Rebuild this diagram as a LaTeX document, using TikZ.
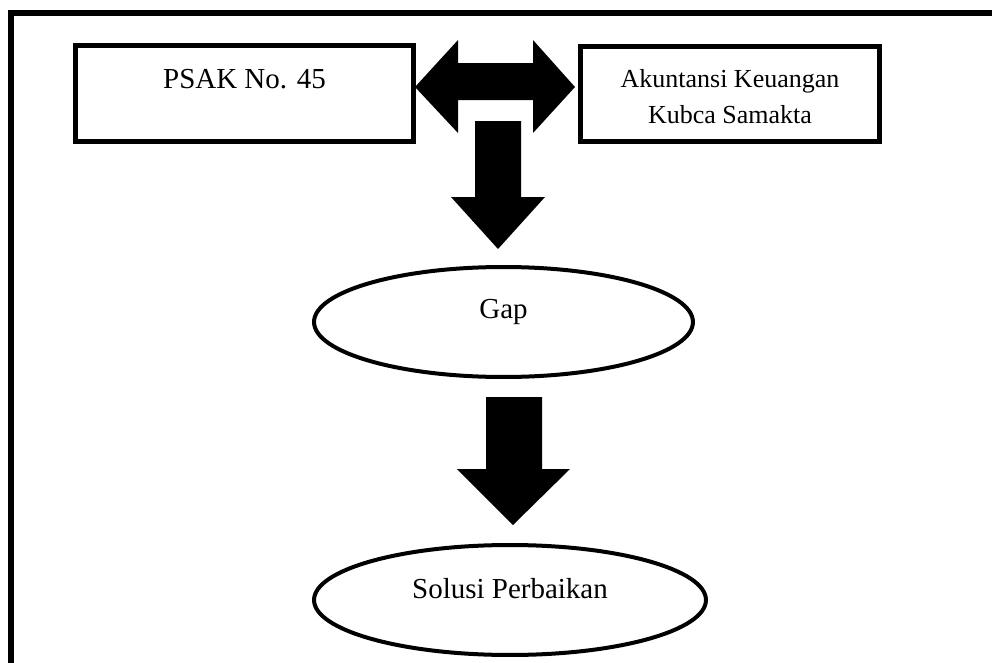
\documentclass[tikz,border=0pt]{standalone}
\usepackage{fontspec}
\setmainfont{Liberation Serif}
\usetikzlibrary{shapes.geometric, positioning}

\begin{document}
\begin{tikzpicture}[
  x=0.02cm, y=-0.02cm,
  tbox/.style={draw, line width=0.1cm, rectangle, inner sep=0pt, font=\fontsize{16.5}{21}\selectfont, align=center},
  ebox/.style={draw, line width=0.08cm, ellipse, inner sep=0pt, font=\fontsize{16.5}{21}\selectfont},
  blockarrow/.style={fill=black}
]
  \useasboundingbox (0,0) rectangle (992,663);
  % frame
  \draw[line width=0.11cm] (992,13) -- (11,13) -- (11,663);

  \node[tbox, minimum width=6.76cm, minimum height=1.92cm, text height=0.24cm, text depth=0.46cm] (psak) at (244.5,93.5) {PSAK No. 45};
  \node[tbox, font=\fontsize{14.8}{21}\selectfont, minimum width=5.98cm, minimum height=1.9cm, text height=1.32cm, text depth=0.12cm] (akun) at (730,94) {Akuntansi Keuangan\\Kubca Samakta};

  \node[ebox, minimum width=7.58cm, minimum height=2.2cm, text height=0.2cm, text depth=0.36cm] (gap) at (503.5,322) {Gap};
  \node[ebox, minimum width=7.84cm, minimum height=2.2cm, text height=0.24cm, text depth=0.32cm] (solusi) at (510,600) {Solusi Perbaikan};

  % block arrows
  \fill[blockarrow] (415,87) -- (458,40) -- (458,63) -- (533,63) -- (533,40) -- (575,87)
    -- (533,133) -- (533,100) -- (458,100) -- (458,133) -- cycle;
  \fill[blockarrow] (475,121) -- (521,121) -- (521,197) -- (545,197) -- (498,249)
    -- (451,197) -- (475,197) -- cycle;
  \fill[blockarrow] (486,397) -- (542,397) -- (542,469) -- (570,469) -- (513,525)
    -- (457,469) -- (486,469) -- cycle;
\end{tikzpicture}
\end{document}
